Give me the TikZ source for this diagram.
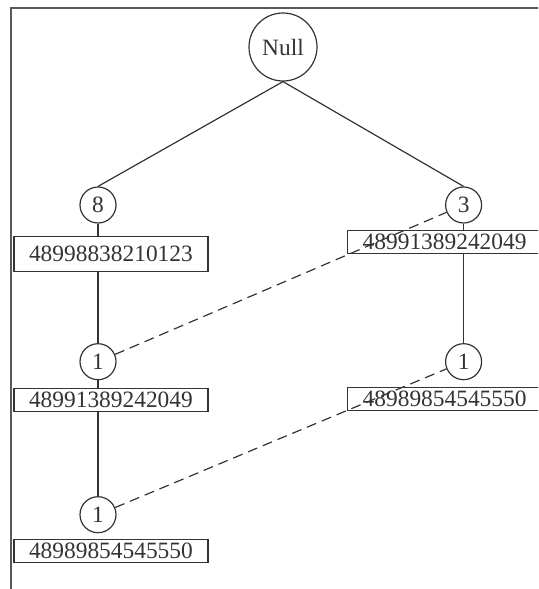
\documentclass[tikz,border=0pt]{standalone}
\usepackage{fontspec}
\setmainfont{Liberation Serif}
\usetikzlibrary{positioning}

\begin{document}
\begin{tikzpicture}[x=0.5pt,y=-0.5pt,
    every node/.style={font=\fontsize{11.7}{14}\selectfont,text=black!80},
    freq/.style={draw=black!80,line width=0.6pt,circle,inner sep=0pt,minimum size=18pt,fill=white},
    itembox/.style={draw=black!80,line width=0.6pt,rectangle,inner sep=0pt,minimum width=97pt,minimum height=11.5pt,fill=white},
    link/.style={black!80,line width=0.6pt}]
        \useasboundingbox (0,0) rectangle (538,589);
        \clip (0,0) rectangle (538,589);
        % frame
        \draw[black!65,line width=0.9pt] (10.7,600) -- (10.7,8) -- (560,8);
        % root and count nodes
        \node[freq,minimum size=34pt] (null) at (283,47) {Null};
        \node[freq] (c8) at (98,205) {8};
        \node[freq] (c3) at (463.6,205) {3};
        \node[freq] (l1) at (98,361.7) {1};
        \node[freq] (r1) at (463.6,361.7) {1};
        \node[freq] (l2) at (98,514.7) {1};
        % tree edges
        \draw[link] (null.south) -- (c8.north);
        \draw[link] (null.south) -- (c3.north);
        \draw[link] (c8) -- (l1);
        \draw[link] (l1) -- (l2);
        \draw[link] (c3) -- (r1);
        % item boxes
        \node[itembox,minimum height=17.5pt] (b8) at (110.9,254.2) {48998838210123};
        \node[itembox] (bl1) at (110.9,400) {48991389242049};
        \node[itembox] (bl2) at (110.9,551.2) {48989854545550};
        \node[itembox] (b3) at (444.6,242) {48991389242049};
        \node[itembox] (br1) at (444.6,399.2) {48989854545550};
        % node links
        \draw[link,dash pattern=on 5pt off 3pt] (l1) -- (c3);
        \draw[link,dash pattern=on 5pt off 3pt] (l2) -- (r1);
\end{tikzpicture}
\end{document}
